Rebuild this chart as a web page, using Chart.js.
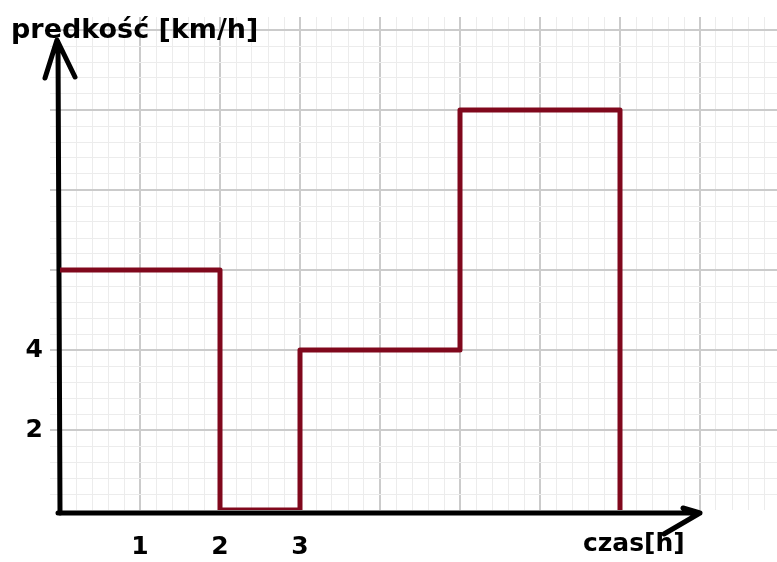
<!DOCTYPE html>
<html>
<head>
<meta charset="utf-8">
<script src="https://cdn.jsdelivr.net/npm/chart.js@4"></script>
<style>
  html, body { margin: 0; padding: 0; background: #fff; }
  #wrap { width: 777px; height: 562px; position: relative; }
</style>
</head>
<body>
<div id="wrap"><canvas id="Cnvs"></canvas></div>
<script>
// step boundaries: time [h] and speed [km/h] held from that moment on
var timeH = [0, 2, 3, 5, 7];
var speedKmh = [6, 0, 4, 10, 0];
var xTickLabels = [1, 2, 3];
var yTickLabels = [2, 4];

var lineColor = '#80081c';
var majorGrid = '#cbcbcb';
var minorGrid = '#ececec';
var labelFont = { family: 'DejaVu Sans', size: 25, weight: 'bold' };

function range(from, to, step) {
  var out = [];
  for (var i = 0; from + i * step <= to + 1e-9; i++) out.push(Math.round((from + i * step) * 1000) / 1000);
  return out;
}
function isMult(v, m) { return Math.abs(v / m - Math.round(v / m)) < 1e-6; }
function noPad(s) { s.paddingTop = 0; s.paddingBottom = 0; s.paddingLeft = 0; s.paddingRight = 0; }

// stepped 'before' in Chart.js draws horizontal first, then vertical
var stepPoints = [];
timeH.forEach(function (t, i) {
  if (i > 0) stepPoints.push({ x: t, y: speedKmh[i - 1] });
  stepPoints.push({ x: t, y: speedKmh[i] });
});

var axesPlugin = {
  id: 'axes',
  beforeDatasetsDraw: function (chart) {
    var c = chart.ctx, xs = chart.scales.x, ys = chart.scales.y;
    var x0 = xs.getPixelForValue(0), y0 = ys.getPixelForValue(0) + 3;
    c.save();
    c.strokeStyle = '#000';
    c.lineWidth = 5;
    c.lineCap = 'round';
    c.lineJoin = 'round';
    // y axis with arrow
    c.beginPath();
    c.moveTo(x0, y0);
    c.lineTo(x0 - 2, 42);
    c.moveTo(45, 78);
    c.lineTo(x0 - 3, 40);
    c.lineTo(75, 77);
    c.stroke();
    // x axis with arrow
    c.beginPath();
    c.moveTo(x0 - 2, y0);
    c.lineTo(xs.getPixelForValue(8), y0);
    c.moveTo(683, y0 - 5);
    c.lineTo(xs.getPixelForValue(8), y0);
    c.lineTo(664, y0 + 21);
    c.stroke();
    c.restore();
  },
  afterDraw: function (chart) {
    var c = chart.ctx;
    c.save();
    c.fillStyle = '#000';
    c.font = 'bold 27px "DejaVu Sans"';
    c.textBaseline = 'alphabetic';
    c.fillText('predkość [km/h]', 11, 38);
    c.font = 'bold 25px "DejaVu Sans"';
    c.fillText('czas[h]', 583, 551);
    c.restore();
  }
};

new Chart(document.getElementById('Cnvs').getContext('2d'), {
  type: 'line',
  data: {
    datasets: [{
      data: stepPoints,
      borderColor: lineColor,
      borderWidth: 5,
      borderJoinStyle: 'round',
      pointRadius: 0,
      fill: false
    }]
  },
  options: {
    responsive: true,
    maintainAspectRatio: false,
    animation: false,
    layout: { padding: { top: 17 } },
    plugins: { legend: { display: false }, tooltip: { enabled: false } },
    scales: {
      x: {
        type: 'linear',
        min: -0.125,
        max: 8.9625,
        afterBuildTicks: function (s) { s.ticks = range(0.2, 8.8, 0.2).map(function (v) { return { value: v }; }); },
        afterFit: function (s) { s.height = 52; noPad(s); },
        border: { display: false },
        grid: {
          drawTicks: false,
          lineWidth: function (ctx) { return isMult(ctx.tick.value, 1) ? 2 : 1; },
          color: function (ctx) { return isMult(ctx.tick.value, 1) ? majorGrid : minorGrid; }
        },
        ticks: {
          autoSkip: false,
          maxRotation: 0,
          padding: 22,
          color: '#000',
          font: labelFont,
          callback: function (v) { return xTickLabels.indexOf(Math.round(v * 1000) / 1000) >= 0 ? String(Math.round(v)) : ''; }
        }
      },
      y: {
        type: 'linear',
        min: 0,
        max: 12.325,
        afterBuildTicks: function (s) { s.ticks = range(0.4, 12.0, 0.4).map(function (v) { return { value: v }; }); },
        afterFit: function (s) { s.width = 50; noPad(s); },
        border: { display: false },
        grid: {
          drawTicks: false,
          lineWidth: function (ctx) { return isMult(ctx.tick.value, 2) ? 2 : 1; },
          color: function (ctx) { return isMult(ctx.tick.value, 2) ? majorGrid : minorGrid; }
        },
        ticks: {
          autoSkip: false,
          padding: 7,
          color: '#000',
          font: labelFont,
          callback: function (v) { return yTickLabels.indexOf(Math.round(v * 1000) / 1000) >= 0 ? String(Math.round(v)) : ''; }
        }
      }
    }
  },
  plugins: [axesPlugin]
});
</script>
</body>
</html>
